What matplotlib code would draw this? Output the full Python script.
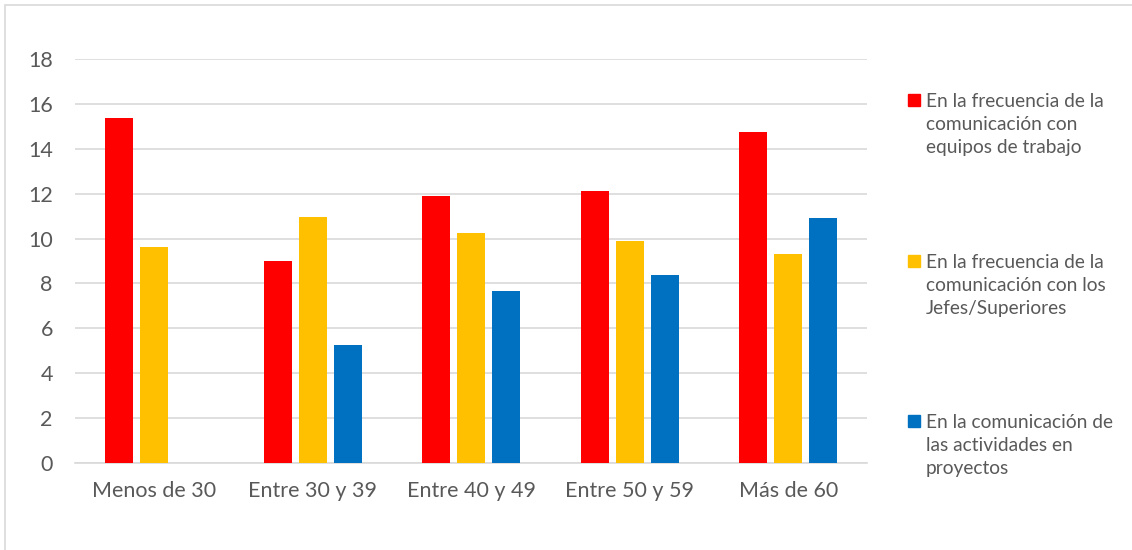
import numpy as np
import matplotlib.pyplot as plt
from matplotlib.patches import Rectangle

plt.rcParams['font.family'] = ['Lato', 'DejaVu Sans']

categorias = ['Menos de 30', 'Entre 30 y 39', 'Entre 40 y 49', 'Entre 50 y 59', 'Más de 60']
equipos = [15.38, 8.99, 11.89, 12.10, 14.74]
jefes = [9.62, 10.95, 10.23, 9.87, 9.29]
proyectos = [0, 5.28, 7.65, 8.38, 10.92]
series_labels = ['En la frecuencia de la\ncomunicación con\nequipos de trabajo',
                 'En la frecuencia de la\ncomunicación con los\nJefes/Superiores',
                 'En la comunicación de\nlas actividades en\nproyectos']
colores = ['#FF0000', '#FFC000', '#0070C0']

fig = plt.figure(figsize=(11.32, 5.5), dpi=100)
ax = fig.add_axes([0.0663, 0.158, 0.70, 0.735])

x = np.arange(len(categorias))
w = 0.177
step = 0.221
for i, (vals, c) in enumerate(zip([equipos, jefes, proyectos], colores)):
    ax.bar(x + (i - 1) * step, vals, width=w, color=c, zorder=3)

ax.set_xlim(-0.5, 4.5)
ax.set_ylim(0, 18)
ax.set_yticks(range(0, 19, 2))
ax.set_xticks(x)
ax.set_xticklabels(categorias)
ax.yaxis.grid(True, color='#d9d9d9', linewidth=1.2, zorder=0)
for s in ['left', 'right', 'top']:
    ax.spines[s].set_visible(False)
ax.spines['bottom'].set_color('#d9d9d9')
ax.spines['bottom'].set_linewidth(1.2)
ax.tick_params(axis='both', length=0, labelsize=15.5, labelcolor='#595959')
ax.tick_params(axis='y', pad=16)
ax.tick_params(axis='x', pad=13)

# leyenda a mano: cuadro alineado con la primera linea
W, H = 1132, 550
leg_y = [100, 261, 421]
for lab, c, yy in zip(series_labels, colores, leg_y):
    fig.patches.append(Rectangle((908 / W, 1 - (yy + 6) / H), 12 / W, 12 / H,
                                 transform=fig.transFigure, color=c))
    fig.text(926 / W, 1 - (yy - 7) / H, lab, fontsize=13.8, color='#595959',
             va='top', ha='left', linespacing=1.42)

fig.patches.append(Rectangle((5 / W, -0.1), 1.2, 1.1 - 5 / H,
                             transform=fig.transFigure, fill=False,
                             edgecolor='#d9d9d9', linewidth=1.2))

fig.savefig('out.png', dpi=100)
